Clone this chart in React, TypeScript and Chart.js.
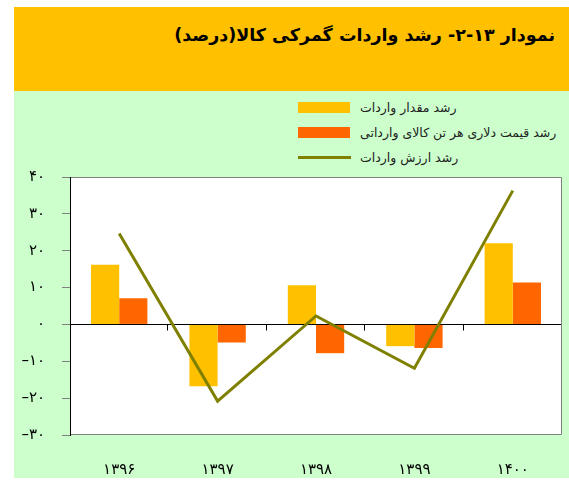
import React, { useEffect, useRef } from "react";
import { Chart, registerables } from "chart.js";

Chart.register(...registerables);

const categories = ["۱۳۹۶", "۱۳۹۷", "۱۳۹۸", "۱۳۹۹", "۱۴۰۰"];
const volumeGrowth = [16.2, -16.8, 10.6, -5.9, 22.0];
const priceGrowth = [7.1, -4.9, -7.8, -6.4, 11.4];
const valueGrowth = [24.7, -20.8, 2.3, -11.9, 36.3];
const seriesNames = [
  "رشد مقدار واردات",
  "رشد قیمت دلاری هر تن کالای وارداتی",
  "رشد ارزش واردات",
];
const titleText = "نمودار ۱۳-۲- رشد واردات گمرکی کالا(درصد)";
const yMin = -30;
const yMax = 40;
const yStep = 10;

const faDigits = "۰۱۲۳۴۵۶۷۸۹";
const toFa = (n: number) => {
  const s = String(Math.abs(n)).replace(/\d/g, (d) => faDigits[Number(d)]);
  return n < 0 ? "–" + s : s;
};

const YELLOW = "#FFC000";
const ORANGE = "#FF6600";
const OLIVE = "#808000";

const framePlugin = {
  id: "frame",
  beforeDraw(chart: any) {
    const { ctx, chartArea: a } = chart;
    ctx.save();
    ctx.fillStyle = "#FFFFFF";
    ctx.fillRect(a.left, a.top, a.right - a.left, a.bottom - a.top);
    ctx.restore();
  },
  beforeDatasetsDraw(chart: any) {
    const { ctx, chartArea: a, scales } = chart;
    const y0 = Math.round(scales.y.getPixelForValue(0)) + 0.5;
    ctx.save();
    ctx.strokeStyle = "#000000";
    ctx.lineWidth = 1;
    ctx.beginPath();
    ctx.moveTo(a.left, y0);
    ctx.lineTo(a.right, y0);
    const n = categories.length;
    for (let i = 1; i <= n; i++) {
      const xx =
        i < n
          ? Math.round((scales.x.getPixelForValue(i - 1) + scales.x.getPixelForValue(i)) / 2) - 0.5
          : a.right - 0.5;
      ctx.moveTo(xx, y0);
      ctx.lineTo(xx, y0 + 6);
    }
    ctx.stroke();
    ctx.restore();
  },
  afterDraw(chart: any) {
    const { ctx, chartArea: a } = chart;
    ctx.save();
    ctx.lineWidth = 1;
    ctx.strokeStyle = "#808080";
    ctx.beginPath();
    ctx.moveTo(a.left, a.top + 0.5);
    ctx.lineTo(a.right - 0.5, a.top + 0.5);
    ctx.lineTo(a.right - 0.5, a.bottom - 0.5);
    ctx.lineTo(a.left, a.bottom - 0.5);
    ctx.stroke();
    ctx.strokeStyle = "#000000";
    ctx.beginPath();
    ctx.moveTo(a.left + 0.5, a.top);
    ctx.lineTo(a.left + 0.5, a.bottom);
    ctx.stroke();
    ctx.restore();
  },
};

export default function App() {
  const canvasRef = useRef<HTMLCanvasElement | null>(null);

  useEffect(() => {
    if (!canvasRef.current) return;
    const chart = new Chart(canvasRef.current, {
      type: "bar",
      data: {
        labels: categories,
        datasets: [
          {
            type: "bar",
            label: seriesNames[0],
            data: volumeGrowth,
            backgroundColor: YELLOW,
            borderWidth: 0,
            categoryPercentage: 0.573,
            barPercentage: 1,
            order: 2,
          },
          {
            type: "bar",
            label: seriesNames[1],
            data: priceGrowth,
            backgroundColor: ORANGE,
            borderWidth: 0,
            categoryPercentage: 0.573,
            barPercentage: 1,
            order: 2,
          },
          {
            type: "line",
            label: seriesNames[2],
            data: valueGrowth,
            borderColor: OLIVE,
            backgroundColor: OLIVE,
            borderWidth: 3,
            pointRadius: 0,
            tension: 0,
            order: 0,
          } as any,
        ],
      },
      options: {
        animation: false,
        responsive: false,
        maintainAspectRatio: false,
        layout: { padding: { left: 0, top: 177, right: 7, bottom: 0 } },
        plugins: {
          legend: { display: false },
          tooltip: { enabled: false },
        },
        scales: {
          x: {
            offset: true,
            grid: { display: false },
            border: { display: false },
            ticks: {
              color: "#000000",
              padding: 18,
              font: { family: "DejaVu Sans", size: 15 },
            },
            afterFit: (s: any) => {
              s.height = 51;
            },
          },
          y: {
            min: yMin,
            max: yMax,
            grid: {
              drawOnChartArea: false,
              drawTicks: true,
              tickLength: 8,
              color: "#808080",
            },
            border: { display: true, color: "#000000" },
            ticks: {
              stepSize: yStep,
              color: "#000000",
              padding: 17,
              font: { family: "DejaVu Sans", size: 15 },
              callback: (v: any) => toFa(Number(v)),
            },
            afterFit: (s: any) => {
              s.width = 70;
            },
          },
        },
      },
      plugins: [framePlugin],
    });
    return () => chart.destroy();
  }, []);

  const legendItem = (i: number, top: number) => (
    <div
      key={i}
      style={{ position: "absolute", left: 298, top, height: 14, display: "flex", alignItems: "center" }}
    >
      <div style={{ width: 52, height: 14, position: "relative" }}>
        {i < 2 ? (
          <div style={{ width: 52, height: 11, marginTop: 1.5, background: i === 0 ? YELLOW : ORANGE }} />
        ) : (
          <div style={{ position: "absolute", left: 0, top: 6, width: 53, height: 3, background: OLIVE }} />
        )}
      </div>
      <div
        dir="rtl"
        style={{
          marginLeft: 10,
          fontFamily: "DejaVu Sans",
          fontSize: 12.5,
          color: "#222222",
          whiteSpace: "nowrap",
        }}
      >
        {seriesNames[i]}
      </div>
    </div>
  );

  return (
    <div style={{ position: "absolute", left: 0, top: 0, width: 569, height: 486, background: "#FFFFFF", overflow: "hidden" }}>
      <div style={{ position: "absolute", left: 14, top: 7, width: 555, height: 84, background: YELLOW }} />
      <div style={{ position: "absolute", left: 14, top: 91, width: 555, height: 387, background: "#CCFFCC" }} />
      <div
        dir="rtl"
        style={{
          position: "absolute",
          right: 14,
          top: 25,
          fontFamily: "DejaVu Sans",
          fontWeight: "bold",
          fontSize: 17.5,
          color: "#000000",
          whiteSpace: "nowrap",
        }}
      >
        {titleText}
      </div>
      {legendItem(0, 100)}
      {legendItem(1, 125)}
      {legendItem(2, 150)}
      <canvas
        ref={canvasRef}
        width={569}
        height={486}
        style={{ position: "absolute", left: 0, top: 0, width: 569, height: 486 }}
      />
    </div>
  );
}
